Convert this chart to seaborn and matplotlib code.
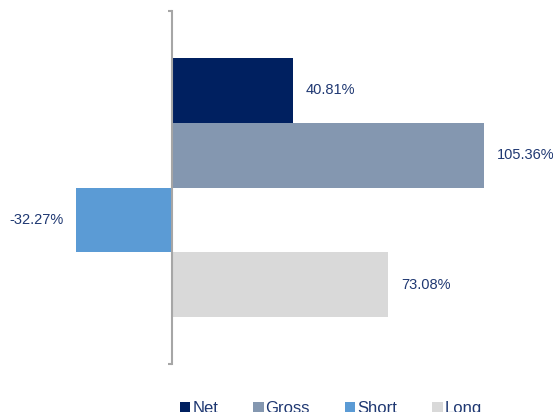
import matplotlib
matplotlib.use("Agg")
import matplotlib.pyplot as plt
import seaborn as sns
import pandas as pd
from matplotlib.patches import Patch

series = ["Net", "Gross", "Short", "Long"]
values = [40.81, 105.36, -32.27, 73.08]
colors = ["#002060", "#8497B0", "#5B9BD5", "#D9D9D9"]
label_color = "#1F3872"

sns.set_theme(style="white")
plt.rcParams["font.family"] = ["Liberation Sans", "DejaVu Sans"]

df = pd.DataFrame({"series": series, "value": values})

fig = plt.figure(figsize=(5.53, 4.12), dpi=100)
ax = fig.add_axes([0.0, 48 / 412, 1.0, 353 / 412])

sns.barplot(data=df, x="value", y="series", hue="series", order=series,
            hue_order=series, palette=colors, width=1.0, saturation=1,
            legend=False, linewidth=0, ax=ax, orient="h")

px_per_unit = 2.962
ax.set_xlim(-172 / px_per_unit, (553 - 172) / px_per_unit)
pad = 0.723
ax.set_ylim(3.5 + pad, -0.5 - pad)

for i, v in enumerate(values):
    off = 9 if v >= 0 else -9
    ax.annotate(f"{v:.2f}%", xy=(v, i), xytext=(off, 0), textcoords="offset points",
                ha="left" if v >= 0 else "right", va="center",
                fontsize=10.5, color=label_color)

for s in ["top", "right", "bottom"]:
    ax.spines[s].set_visible(False)
ax.spines["left"].set_position(("data", 0))
ax.spines["left"].set_color("#A6A6A6")
ax.spines["left"].set_linewidth(1.5)
ax.set_yticks([3.5 + pad, -0.5 - pad])
ax.set_yticklabels(["", ""])
ax.tick_params(axis="y", left=True, length=3, width=1.5, color="#A6A6A6", direction="out")
ax.set_xticks([])
ax.set_xlabel("")
ax.set_ylabel("")

handles = [Patch(facecolor=c, edgecolor="none", label=s) for s, c in zip(series, colors)]
fig.legend(handles=handles, loc="center", bbox_to_anchor=(331 / 553, 3.5 / 412),
           ncol=4, frameon=False, fontsize=12, handlelength=0.62, handleheight=0.62,
           handletextpad=0.12, columnspacing=2.1, borderpad=0, labelcolor=label_color)

fig.savefig("out.png", dpi=100)
